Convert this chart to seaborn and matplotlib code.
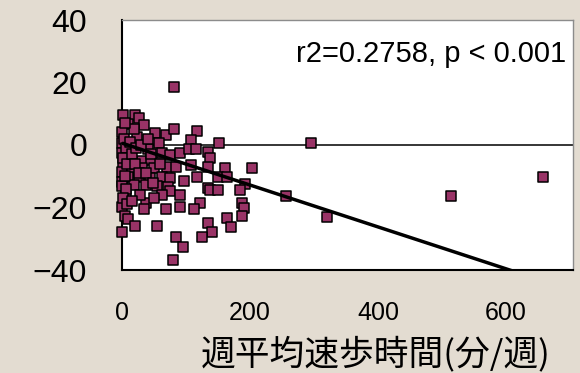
import numpy as np
import pandas as pd
import matplotlib
matplotlib.use("Agg")
import matplotlib.pyplot as plt
import seaborn as sns

# ---- data ----
walk_minutes = [
    82, 1, 21, 27, 9, 34, 0, 52, 68, 82, 24, 117, 108, 152, 296,
    0, 14, 58, 41, 62, 75, 91, 0, 12, 31, 46, 2, 105, 115, 134, 138,
    0, 15, 32, 50, 70, 85, 108, 135, 161, 203,
    10, 27, 44, 62, 75, 97, 117, 150, 164, 192,
    0, 0, 18, 38, 55, 72,
    75, 135, 137, 150, 184,
    7, 62, 90,
    37, 0, 35, 68, 122, 113, 187, 190, 90,
    4, 10, 187, 164, 134, 321,
    21, 54, 170, 0, 140, 125, 84, 95, 80,
    257, 514, 658,
    3, 6, 2, 8, 4, 6, 2, 8, 12, 16, 20, 22, 26, 18, 30, 5, 40, 45, 38, 60, 48, 28, 16, 50,
]
change_values = [
    18.5, 9.6, 9.6, 8.5, 6.7, 6.4, 4.3, 3.7, 3.2, 5.0, 2.5, 4.6, 1.6, 0.5, 0.5,
    0.5, -0.5, 0.7, -1.4, -2.7, -3.2, -2.7, -2.7, -4.0, -5.0, -4.8, -5.9, -1.4, -1.4, -2.1, -4.3,
    -8.5, -8.0, -7.5, -7.5, -6.9, -6.9, -6.4, -6.9, -7.5, -7.5,
    -10.3, -10.1, -10.7, -10.1, -10.7, -11.4, -10.3, -10.1, -10.3, -12.5,
    -11.7, -13.1, -12.8, -12.8, -13.1, -13.3,
    -14.6, -13.9, -14.4, -14.4, -14.4,
    -16.3, -16.0, -16.0,
    -18.7, -19.7, -20.6, -20.6, -18.7, -20.6, -18.7, -20.3, -19.9,
    -22.7, -23.8, -22.7, -23.5, -24.9, -22.9,
    -25.9, -25.9, -26.1, -27.7, -27.7, -29.5, -29.5, -32.5, -36.8,
    -16.3, -16.3, -10.3,
    2.0, -1.0, -4.0, -6.0, -10.0, -14.0, -17.0, -19.0, 1.0, -3.0, -6.0, -1.0, -9.0, 5.0, 0.0, 7.0, 2.0, -3.0, -9.0, -6.0, -12.0, -16.0, -18.0, -17.0,
]
reg_intercept = 0.6
reg_slope = -0.067
x_ticks = [0, 200, 400, 600]
y_ticks = [-40, -20, 0, 20, 40]
annotation = "r2=0.2758, p < 0.001"
x_label = "週平均速歩時間(分/週)"

df = pd.DataFrame({"walk": walk_minutes, "change": change_values})

sns.set_style("white")
plt.rcParams["font.family"] = ["Liberation Sans", "Noto Sans CJK JP", "DejaVu Sans"]
plt.rcParams["axes.unicode_minus"] = True

bg = "#e3dcd1"
fig = plt.figure(figsize=(5.8, 3.73), dpi=100, facecolor=bg)
ax = fig.add_axes([122 / 580, 103 / 373, 451 / 580, 250 / 373])
ax.set_facecolor("white")

ax.set_xlim(0, 705)
ax.set_ylim(-40, 40)

ax.axhline(0, color="black", lw=1.1, zorder=2)

reg_x = np.array([0, 705])
reg_y = reg_intercept + reg_slope * reg_x
ax.plot(reg_x, reg_y, color="black", lw=2.5, zorder=4, solid_capstyle="butt")

sns.scatterplot(data=df, x="walk", y="change", marker="s", s=46,
                color="#993366", edgecolor="black", linewidth=1.1,
                ax=ax, zorder=3, clip_on=False, legend=False)

ax.set_xticks(x_ticks)
ax.set_yticks(y_ticks)
ax.set_xticklabels([str(v) for v in x_ticks], fontsize=18)
ax.set_yticklabels([str(v).replace("-", "\u2212") for v in y_ticks], fontsize=23)
ax.tick_params(axis="y", direction="in", length=3, width=1.4, pad=25, colors="black")
ax.tick_params(axis="x", direction="in", length=0, pad=22, colors="black")
ax.set_xlabel("")
ax.set_ylabel("")

for side in ("left", "bottom"):
    ax.spines[side].set_color("black")
    ax.spines[side].set_linewidth(1.5)
for side in ("top", "right"):
    ax.spines[side].set_color("#8c8c8c")
    ax.spines[side].set_linewidth(1.0)

ax.text(0.686, 0.832, annotation, transform=ax.transAxes, ha="center",
        va="baseline", fontsize=21, color="black")

fig.text(376 / 580, 1 - 354 / 373, x_label, ha="center", va="center",
         fontsize=25, family=["Noto Sans CJK JP", "DejaVu Sans"], color="black")

fig.savefig("out.png", dpi=100, facecolor=bg)
